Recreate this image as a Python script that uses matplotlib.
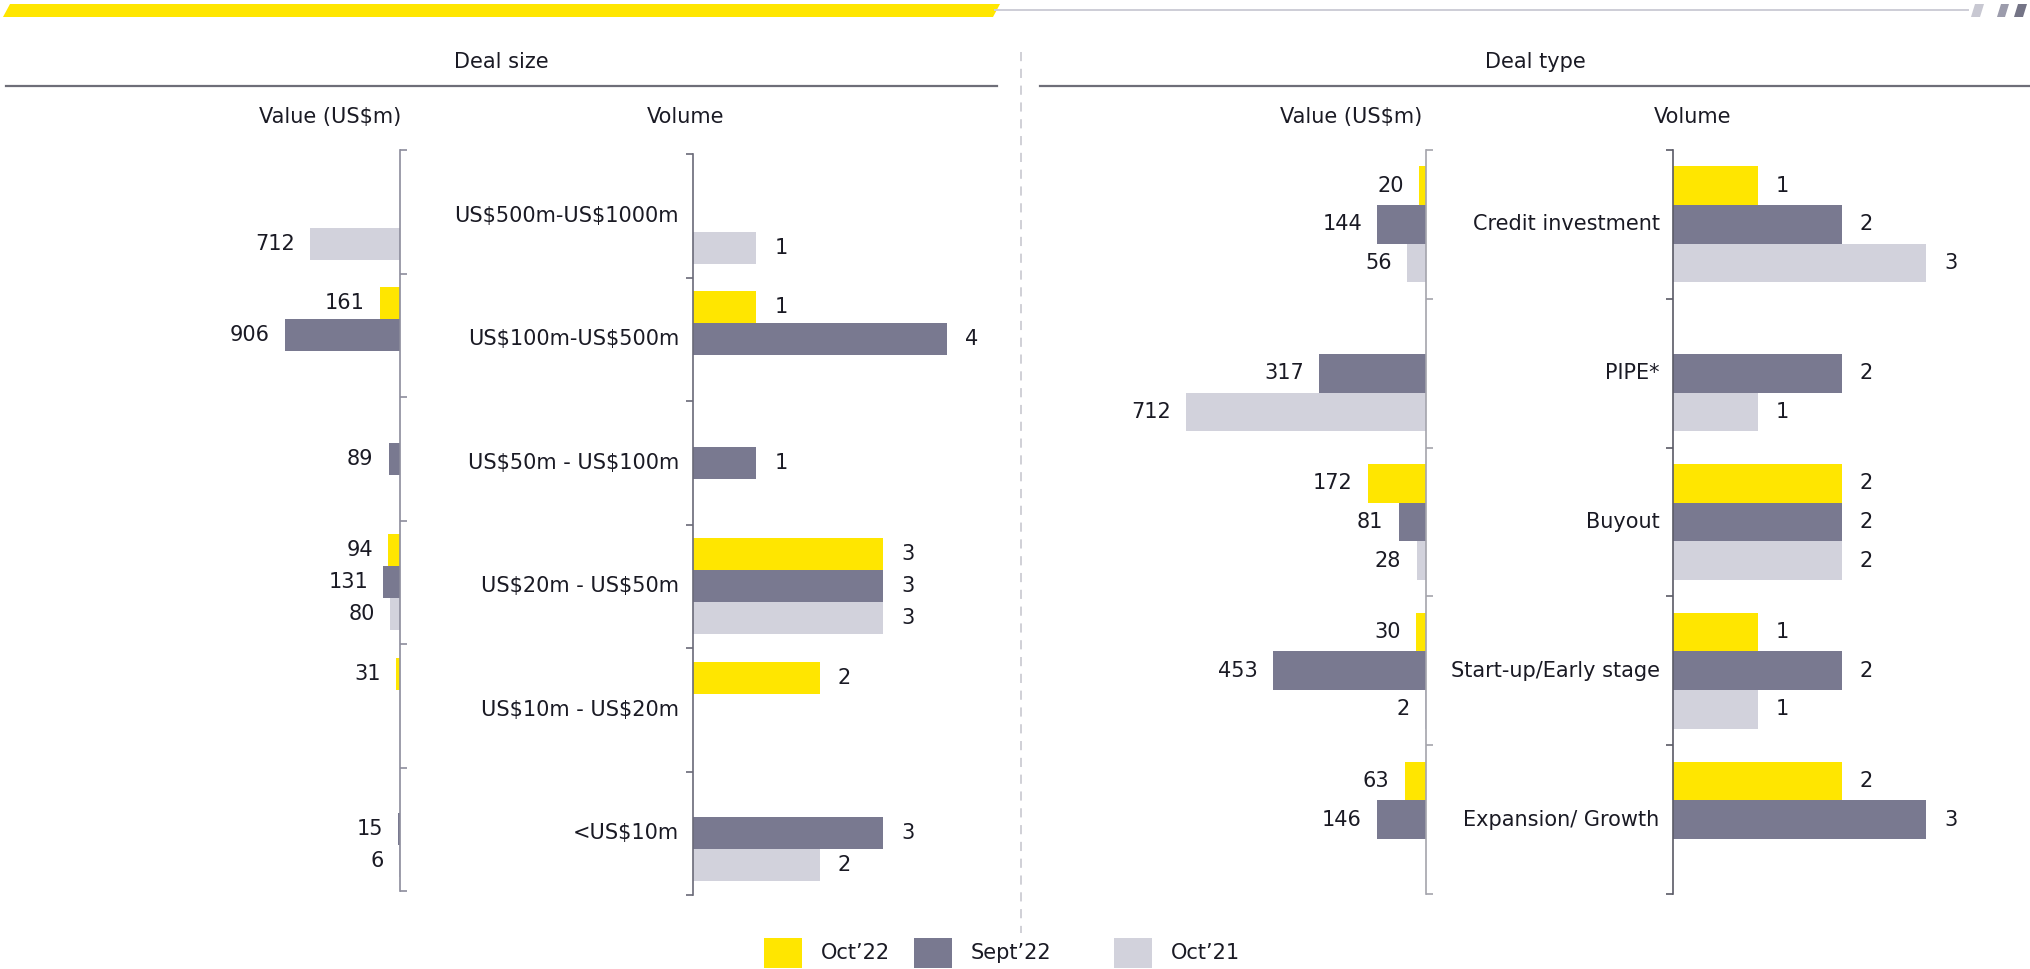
import numpy as np
import matplotlib.pyplot as plt
from matplotlib.patches import Polygon, Rectangle
from matplotlib.lines import Line2D

plt.rcParams['font.family'] = ['DejaVu Sans']

W, H = 2031, 969
FS = 15
TXT = '#1a1a24'

series = ["Oct’22", "Sept’22", "Oct’21"]
colors = ['#FFE600', '#797990', '#D2D2DC']

# deal size (top to bottom)
size_cats = ['US$500m-US$1000m', 'US$100m-US$500m', 'US$50m - US$100m',
             'US$20m - US$50m', 'US$10m - US$20m', '<US$10m']
size_value_oct22 = [None, 161, None, 94, 31, None]
size_value_sep22 = [None, 906, 89, 131, None, 15]
size_value_oct21 = [712, None, None, 80, None, 6]
size_vol_oct22 = [None, 1, None, 3, 2, None]
size_vol_sep22 = [None, 4, 1, 3, None, 3]
size_vol_oct21 = [1, None, None, 3, None, 2]

# deal type (top to bottom)
type_cats = ['Credit investment', 'PIPE*', 'Buyout', 'Start-up/Early stage', 'Expansion/ Growth']
type_value_oct22 = [20, None, 172, 30, 63]
type_value_sep22 = [144, 317, 81, 453, 146]
type_value_oct21 = [56, 712, 28, 2, None]
type_vol_oct22 = [1, None, 2, 1, 2]
type_vol_sep22 = [2, 2, 2, 2, 3]
type_vol_oct21 = [3, 1, 2, 1, None]

fig = plt.figure(figsize=(W / 100, H / 100), dpi=100)


def fx(x):
    return x / W


def fy(y):
    return 1 - y / H


def px_axes(x0, y0, x1, y1):
    return fig.add_axes([fx(x0), fy(y1), (x1 - x0) / W, (y1 - y0) / H])


def bar_panel(ax, groups, xmax, side, spine_col, cats=None):
    n = len(groups[0])
    bh = 0.26
    for k, vals in enumerate(groups):
        for i, v in enumerate(vals):
            if v is None:
                continue
            y = i + 0.5 + (k - 1) * bh
            ax.barh(y, v, height=bh, color=colors[k], edgecolor='none')
            if side == 'value':
                ax.annotate(str(v), (v, y), xytext=(-11, 0), textcoords='offset points',
                            ha='right', va='center', fontsize=FS, color=TXT)
            else:
                ax.annotate(str(v), (v, y), xytext=(13, 0), textcoords='offset points',
                            ha='left', va='center', fontsize=FS, color=TXT)
    ax.set_ylim(n, 0)
    ax.set_xticks([])
    ax.set_yticks(range(n + 1))
    ax.set_yticklabels([])
    for s in ax.spines.values():
        s.set_visible(False)
    if side == 'value':
        ax.set_xlim(xmax, 0)
        ax.spines['right'].set_visible(True)
        ax.spines['right'].set_color(spine_col)
        ax.spines['right'].set_linewidth(1.2)
        ax.yaxis.tick_right()
    else:
        ax.set_xlim(0, xmax)
        ax.spines['left'].set_visible(True)
        ax.spines['left'].set_color(spine_col)
        ax.spines['left'].set_linewidth(1.2)
        ax.yaxis.tick_left()
        for i, c in enumerate(cats):
            ax.annotate(c, xy=(0, i + 0.5), xycoords=('axes fraction', 'data'),
                        xytext=(-10, 0), textcoords='offset points', parse_math=False,
                        ha='right', va='center', fontsize=FS, color=TXT)
    ax.tick_params(axis='y', direction='out', length=5, width=1.2, color=spine_col)
    ax.patch.set_alpha(0)


# deal size panels
ax1 = px_axes(6, 150, 400, 891)
bar_panel(ax1, [size_value_oct22, size_value_sep22, size_value_oct21], 3110, 'value', '#8c8c9c')
ax2 = px_axes(693, 154, 997, 895)
bar_panel(ax2, [size_vol_oct22, size_vol_sep22, size_vol_oct21], 4.79, 'volume', '#6a6a78', size_cats)

# deal type panels
ax3 = px_axes(1040, 150, 1426, 894)
bar_panel(ax3, [type_value_oct22, type_value_sep22, type_value_oct21], 1146, 'value', '#a4a4ac')
ax4 = px_axes(1673.5, 150, 2031, 894)
bar_panel(ax4, [type_vol_oct22, type_vol_sep22, type_vol_oct21], 4.25, 'volume', '#5a5a66', type_cats)

# headers
heads = [(501, 62, 'Deal size'), (1535, 62, 'Deal type'),
         (330, 117, 'Value (US$m)'), (686, 117, 'Volume'),
         (1351, 117, 'Value (US$m)'), (1693, 117, 'Volume')]
for x, y, t in heads:
    fig.text(fx(x), fy(y), t, ha='center', va='center', fontsize=FS, color=TXT, parse_math=False)

fig.add_artist(Line2D([fx(6), fx(997)], [fy(86), fy(86)], color='#6e6e78', lw=1.6))
fig.add_artist(Line2D([fx(1040), fx(2031)], [fy(86), fy(86)], color='#6e6e78', lw=1.6))
fig.add_artist(Line2D([fx(1021), fx(1021)], [fy(52), fy(933)], color='#c4c4cc', lw=1.1,
                      linestyle=(0, (6, 5))))


# top decoration
def para(pts, col):
    fig.add_artist(Polygon([(fx(x), fy(y)) for x, y in pts], closed=True,
                           facecolor=col, edgecolor='none', transform=fig.transFigure))


para([(3, 17), (10, 4), (1000, 4), (993, 17)], '#FFE600')
fig.add_artist(Line2D([fx(995), fx(1968)], [fy(10), fy(10)], color='#cdcdd6', lw=1.4))
para([(1971, 17), (1975, 4), (1984, 4), (1980, 17)], '#C8C8D2')
para([(1997, 17), (2001, 4), (2009, 4), (2005, 17)], '#9C9CAC')
para([(2014, 17), (2018, 4), (2027, 4), (2023, 17)], '#747486')

# legend
leg_box_x = [764, 914, 1114]
for k in range(3):
    x0 = leg_box_x[k]
    fig.add_artist(Rectangle((fx(x0), fy(968)), 38 / W, 30 / H, facecolor=colors[k],
                             edgecolor='none', transform=fig.transFigure))
    fig.text(fx(x0 + 57), fy(953), series[k], ha='left', va='center', fontsize=FS, color=TXT)

fig.savefig('out.png', dpi=100)
